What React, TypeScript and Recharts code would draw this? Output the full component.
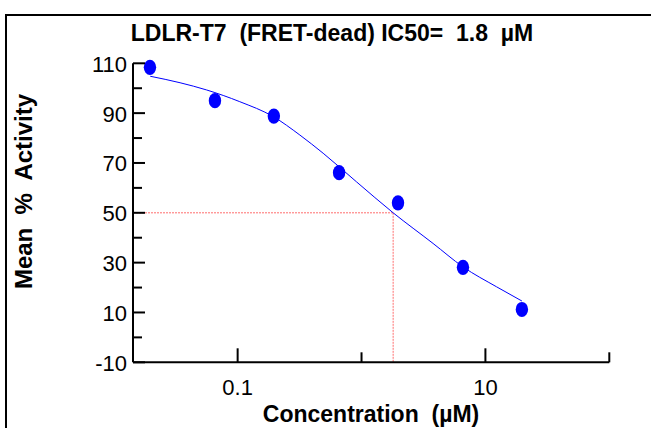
import { ComposedChart, Line, ReferenceLine, Scatter, XAxis, YAxis } from 'recharts';

// measured points (µM vs mean % activity)
const concentrations = [0.0196, 0.0656, 0.196, 0.659, 1.97, 6.59, 19.7];
const meanActivity = [108.4, 95.0, 88.8, 66.1, 54.0, 28.1, 11.2];

// fitted curve
const fitConc = [0.0197, 0.0343, 0.0562, 0.104, 0.194, 0.318, 0.49, 0.912, 1.8, 3.78, 6.59, 12.3, 19.7];
const fitActivity = [104.8, 102.2, 99.3, 94.6, 88.6, 81.2, 73.9, 62.4, 50, 37.7, 28.3, 20.3, 14.6];

const xTicks = [0.1, 1, 10, 100];
const xTickLabels = ['0.1', '', '10', ''];
const yTicks = [-10, 0, 10, 20, 30, 40, 50, 60, 70, 80, 90, 100, 110];
const yTickLabels = [-10, 10, 30, 50, 70, 90, 110];

const IC50 = 1.8;
const X_MIN = 0.0143;
const X_MAX = 100;
const Y_MIN = -10;
const Y_MAX = 110;

const FONT = '"Liberation Sans", Arial, Helvetica, sans-serif';
const BLUE = '#0000ff';
const RED = '#ff4a4a';

const points = concentrations.map((x, i) => ({ x, y: meanActivity[i] }));
const fit = fitConc.map((x, i) => ({ x, y: fitActivity[i] }));

function YTick(props: any) {
  const { x, y, payload } = props;
  const major = yTickLabels.includes(payload.value);
  return (
    <g>
      <line x1={x} x2={x + (major ? 12 : 9)} y1={y} y2={y} stroke="#000" strokeWidth={2} />
      {major && (
        <text x={x - 6} y={y + 8.5} textAnchor="end" fontSize={22} fontFamily={FONT} fill="#000">
          {payload.value}
        </text>
      )}
    </g>
  );
}

function XTick(props: any) {
  const { x, y, payload } = props;
  const idx = xTicks.indexOf(payload.value);
  const label = idx >= 0 ? xTickLabels[idx] : '';
  return (
    <g>
      <line x1={x} x2={x} y1={y} y2={y - (label ? 14 : 10)} stroke="#000" strokeWidth={2} />
      {label && (
        <text x={x} y={y + 32.7} textAnchor="middle" fontSize={22} fontFamily={FONT} fill="#000">
          {label}
        </text>
      )}
    </g>
  );
}

function Dot(props: any) {
  const { cx, cy } = props;
  return <ellipse cx={cx} cy={cy} rx={6.2} ry={7.6} fill={BLUE} />;
}

export default function App() {
  return (
    <div
      style={{
        position: 'absolute',
        left: 0,
        top: 0,
        width: 651,
        height: 428,
        overflow: 'hidden',
        background: '#fff',
      }}
    >
      <ComposedChart
        width={651}
        height={428}
        margin={{ top: 63.3, right: 41.7, bottom: 0, left: 0 }}
      >
        <XAxis
          type="number"
          dataKey="x"
          scale="log"
          domain={[X_MIN, X_MAX]}
          allowDataOverflow
          ticks={xTicks}
          interval={0}
          height={65.7}
          tickSize={0}
          tickMargin={0}
          tickLine={false}
          axisLine={{ stroke: '#000', strokeWidth: 2 }}
          tick={(p: any) => <XTick {...p} />}
        />
        <YAxis
          type="number"
          domain={[Y_MIN, Y_MAX]}
          ticks={yTicks}
          interval={0}
          width={133}
          tickSize={0}
          tickMargin={0}
          tickLine={false}
          axisLine={{ stroke: '#000', strokeWidth: 2 }}
          tick={(p: any) => <YTick {...p} />}
        />
        <ReferenceLine
          segment={[
            { x: X_MIN, y: 50 },
            { x: IC50, y: 50 },
          ]}
          stroke={RED}
          strokeWidth={1}
          strokeOpacity={0.8}
          strokeDasharray="2 1"
        />
        <ReferenceLine
          segment={[
            { x: IC50, y: 50 },
            { x: IC50, y: Y_MIN },
          ]}
          stroke={RED}
          strokeWidth={1}
          strokeOpacity={0.8}
          strokeDasharray="2 1"
        />
        <Line
          data={fit}
          dataKey="y"
          type="monotone"
          stroke={BLUE}
          strokeWidth={1}
          dot={false}
          activeDot={false}
          isAnimationActive={false}
        />
        <Scatter data={points} dataKey="y" fill={BLUE} shape={Dot} isAnimationActive={false} />
      </ComposedChart>
      <svg
        width={651}
        height={428}
        style={{ position: 'absolute', left: 0, top: 0, pointerEvents: 'none' }}
      >
        <path d="M6,440 L6,15 L660,15" fill="none" stroke="#000" strokeWidth={2} />
        <text
          x={332}
          y={40.5}
          textAnchor="middle"
          fontSize={23}
          fontWeight="bold"
          fontFamily={FONT}
          style={{ whiteSpace: 'pre' }}
        >
          {'LDLR-T7  (FRET-dead) IC50=  1.8  µM'}
        </text>
        <text
          x={371}
          y={421.5}
          textAnchor="middle"
          fontSize={23}
          fontWeight="bold"
          fontFamily={FONT}
          style={{ whiteSpace: 'pre' }}
        >
          {'Concentration  (µM)'}
        </text>
        <text
          x={31.7}
          y={191.5}
          transform="rotate(-90 31.7 191.5)"
          textAnchor="middle"
          fontSize={24}
          fontWeight="bold"
          fontFamily={FONT}
          style={{ whiteSpace: 'pre' }}
        >
          {'Mean  %  Activity'}
        </text>
      </svg>
    </div>
  );
}
